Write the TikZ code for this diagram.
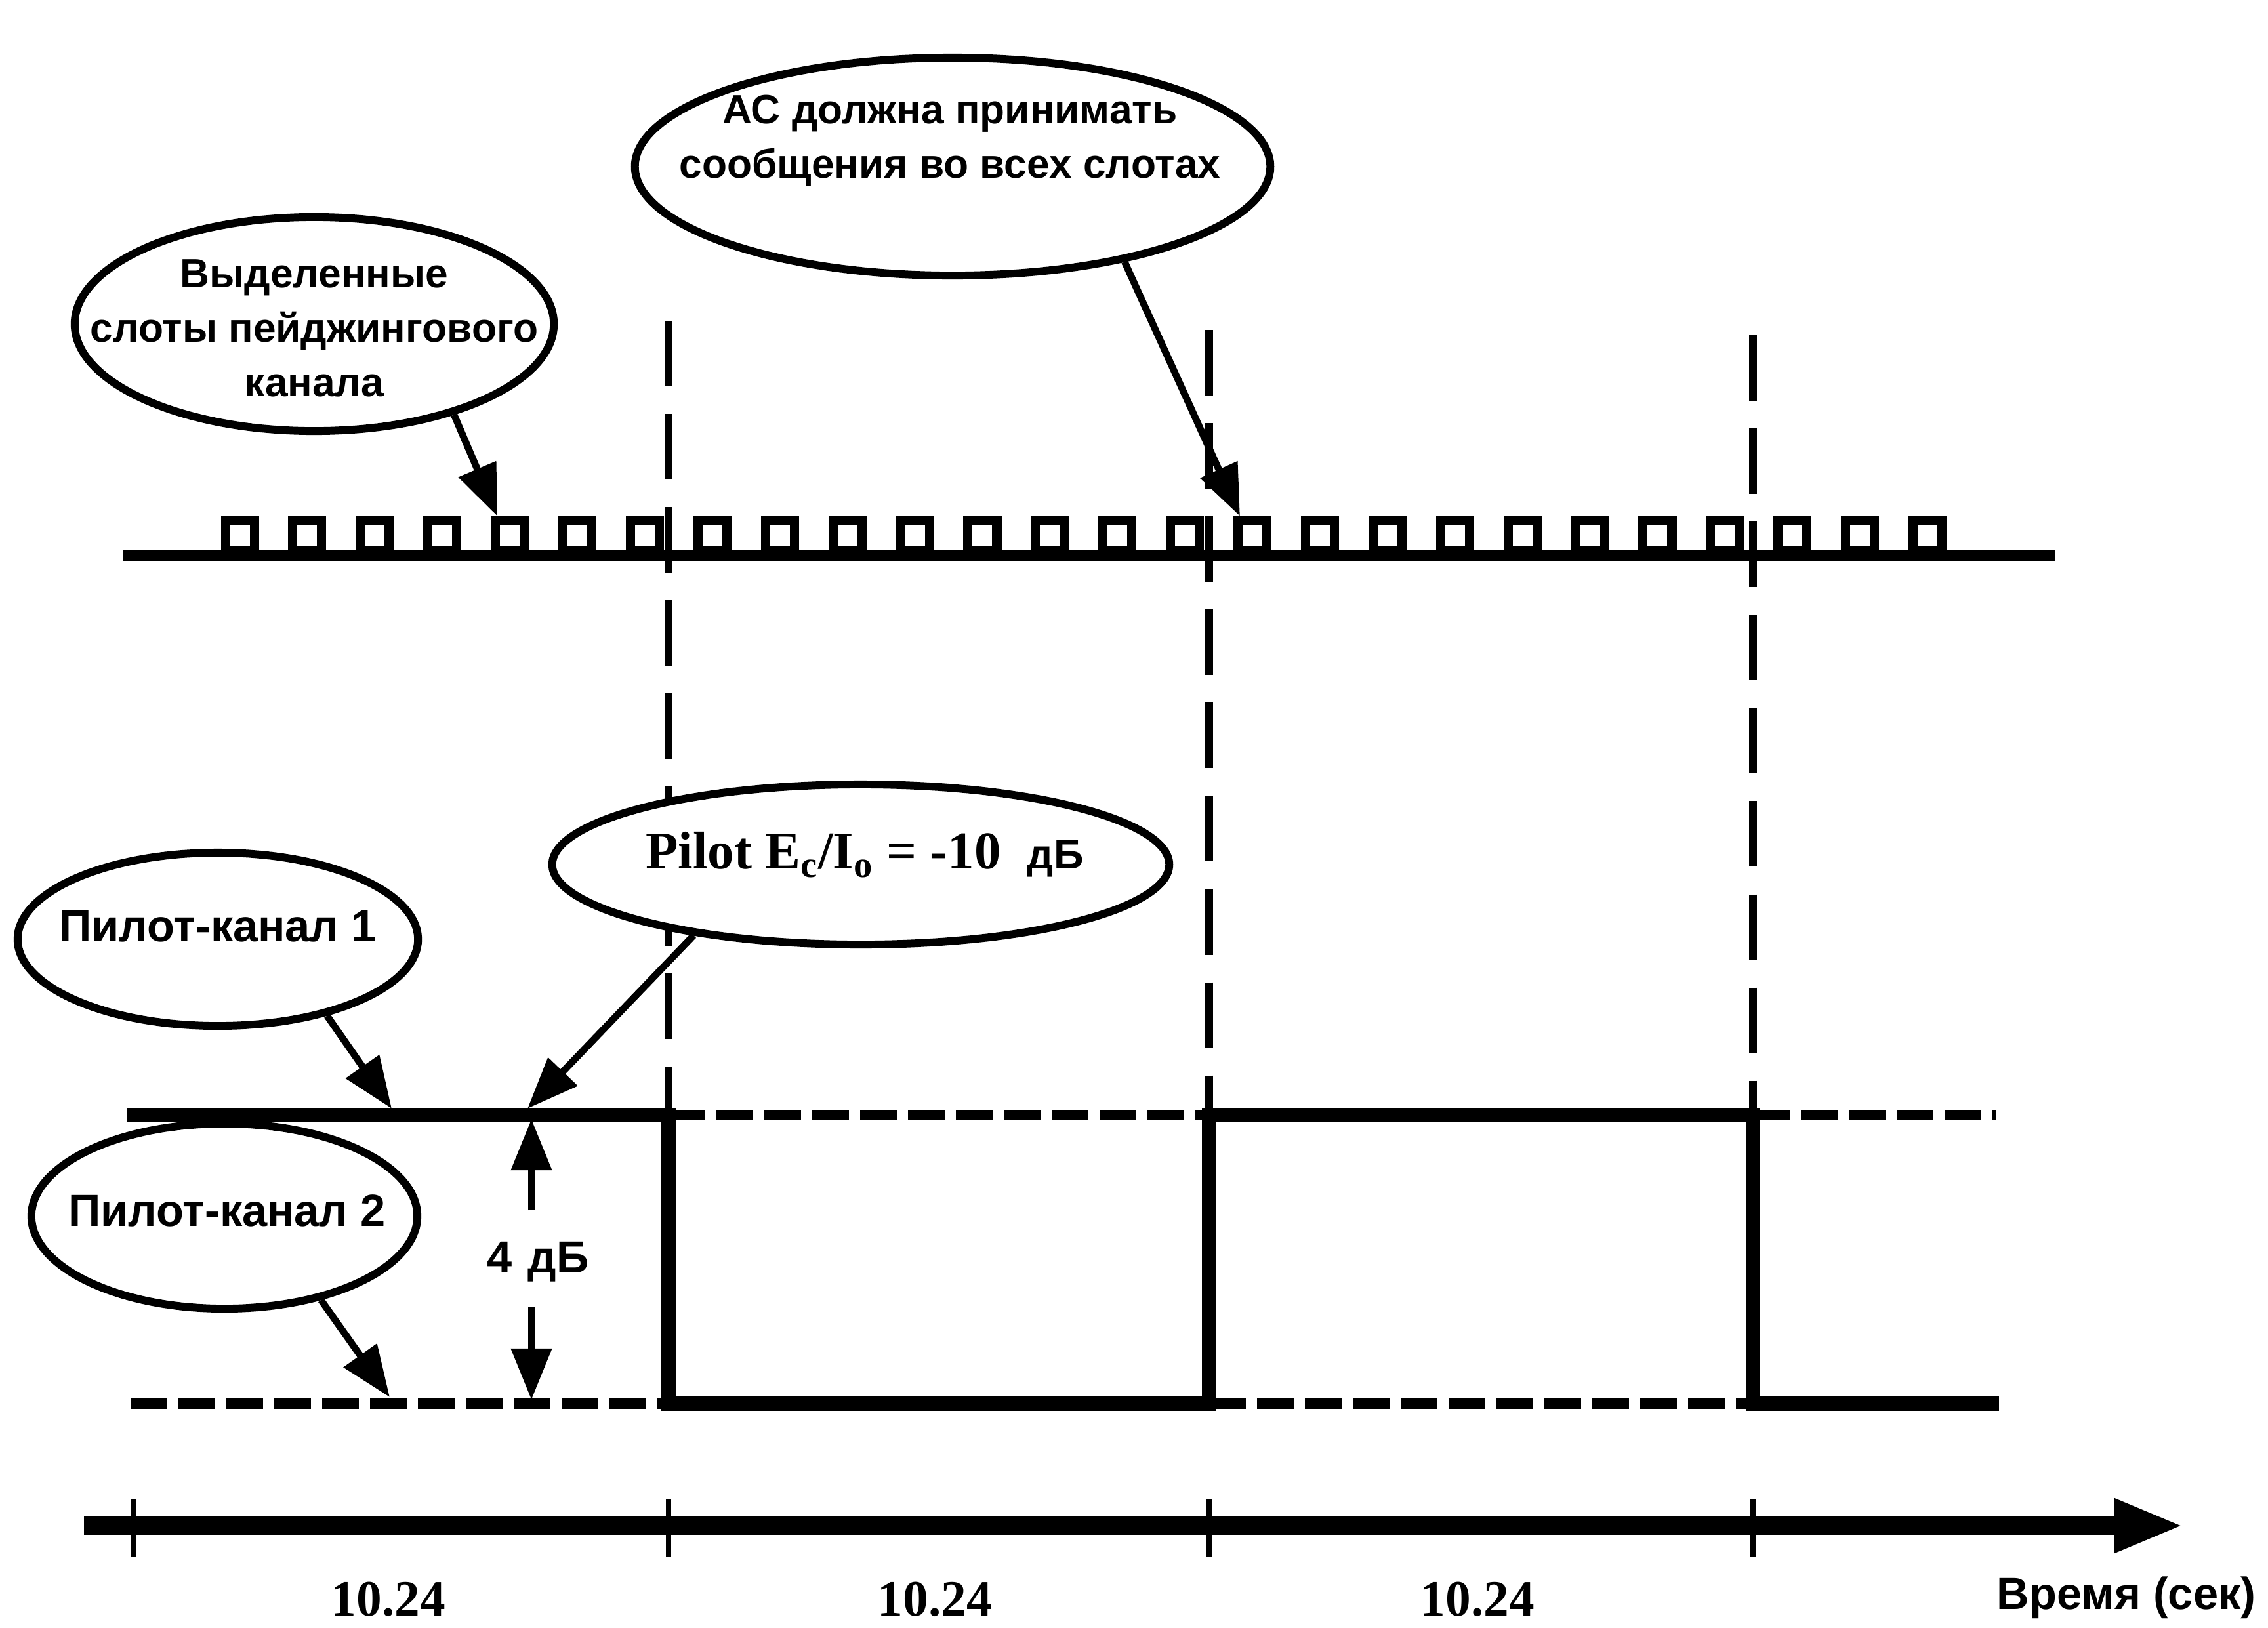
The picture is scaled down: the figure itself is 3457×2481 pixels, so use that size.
\documentclass[tikz,border=0pt]{standalone}
\usepackage{fontspec}
\setmainfont{Liberation Sans}
\newfontfamily\timesfont{Liberation Serif}
\usetikzlibrary{arrows.meta,shapes.geometric}

\begin{document}
\begin{tikzpicture}[
    x=0.01cm, y=-0.01cm,
    bubble/.style={draw, ellipse, fill=white, line width=3.4pt, inner sep=0pt},
    bubbletext/.style={align=center, inner sep=0pt, font=\bfseries\fontsize{17.7}{23.6}\selectfont},
    chantext/.style={inner sep=0pt, font=\bfseries\fontsize{19.5}{23}\selectfont},
    slotbox/.style={draw, line width=4pt, minimum width=0.44cm, minimum height=0.46cm, inner sep=0pt, anchor=south west},
    pointer/.style={line width=3pt, -{Triangle[length=0.78cm, width=0.6cm]}},
    boundary/.style={line width=3.6pt, dash pattern=on 1cm off 0.42cm},
    solidlvl/.style={line width=6pt},
    dashlvl/.style={line width=4.5pt, dash pattern=on 0.56cm off 0.17cm}
]
    \useasboundingbox (0,0) rectangle (3457,2481);

    % paging channel slots
    \draw[line width=5pt] (187,847) -- (3132,847);
    \foreach \i in {0,...,25}
        \node[slotbox] (s\i) at ({336.5+102.9*\i},847) {};

    \foreach \x/\ytop in {1019/489, 1843/503, 2672/511}
        \draw[boundary] (\x,\ytop) -- (\x,1700);

    \node[bubble, minimum width=7.3cm, minimum height=3.26cm] (slotsE) at (479,494) {};
    \node[bubbletext] (slotsT) at (479,500) {Выделенные\\слоты пейджингового\\канала};
    \node[bubble, minimum width=9.68cm, minimum height=3.32cm] (allE) at (1452,254) {};
    \node[bubbletext] (allT) at (1448,214) {АС должна принимать\\сообщения во всех слотах};
    \node[bubble, minimum width=9.4cm, minimum height=2.44cm] (pilotE) at (1312,1318) {};
    \node[inner sep=0pt, font=\timesfont\bfseries\fontsize{23}{26}\selectfont] (pilotT) at (1318,1303)
        {Pilot E\textsubscript{c}/I\textsubscript{o} = -10\hspace{0.5em}{\rmfamily\fontsize{18}{20}\selectfont дБ}};
    \node[bubble, minimum width=6.1cm, minimum height=2.64cm] (chOneE) at (332,1432) {};
    \node[chantext] (chOneT) at (332,1412) {Пилот-канал 1};
    \node[bubble, minimum width=5.88cm, minimum height=2.82cm] (chTwoE) at (342,1854) {};
    \node[chantext] (chTwoT) at (346,1846) {Пилот-канал 2};

    % pilot levels
    \draw[solidlvl] (194,1700) -- (1019,1700) -- (1019,2140) -- (1843,2140) -- (1843,1700)
        -- (2672,1700) -- (2672,2140) -- (3047,2140);
    \draw[dashlvl] (199,2140) -- (1019,2140);
    \draw[dashlvl] (1019,1700) -- (1843,1700);
    \draw[dashlvl] (1843,2140) -- (2672,2140);
    \draw[dashlvl] (2672,1700) -- (3042,1700);

    \coordinate (hiA) at (597,1690);
    \coordinate (hiB) at (804,1690);
    \coordinate (loA) at (594,2130);
    \draw[pointer] (slotsE.-33.7) -- ([xshift=0.1cm]s4.north west);
    \draw[pointer] (allE.-29.5) -- ([xshift=0.1cm]s15.north west);
    \draw[pointer] (pilotE.-157) -- (hiB);
    \draw[pointer] (chOneE.-35.6) -- (hiA);
    \draw[pointer] (chTwoE.-41) -- (loA);

    % 4 dB gap
    \node[chantext] (gap) at (820,1924) {4\hspace{0.35em}дБ};
    \coordinate (gapUp) at (810,1845);
    \coordinate (gapDown) at (810,1992);
    \coordinate (gapHi) at (810,1706);
    \coordinate (gapLo) at (810,2134);
    \draw[pointer] (gapUp) -- (gapHi);
    \draw[pointer] (gapDown) -- (gapLo);

    % time axis
    \coordinate (t0) at (128,2326);
    \coordinate (tEnd) at (3329,2326);
    \draw[line width=7.7pt, -{Triangle[length=1.06cm, width=0.75cm]}] (t0) -- (tEnd);
    \foreach \x in {203,1019,1843,2672}
        \draw[line width=2.5pt] (\x,2285) -- (\x,2373);
    \foreach \x [count=\n] in {592,1425,2252}
        \node[inner sep=0pt, font=\timesfont\bfseries\fontsize{22}{26}\selectfont] (span\n) at (\x,2438) {10.24};
    \node[chantext] (timeLbl) at (3241,2436) {Время (сек)};
\end{tikzpicture}
\end{document}
